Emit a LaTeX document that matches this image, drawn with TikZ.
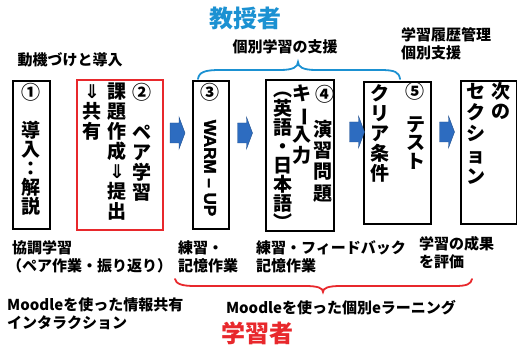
\documentclass[tikz,border=0pt]{standalone}
\usepackage{fontspec}
\setmainfont{Noto Sans CJK JP}[BoldFont={Noto Sans CJK JP Black}]
\newfontfamily\arialfont{Liberation Sans Bold}[FakeBold=2]
\newfontfamily\dvfont{DejaVu Sans}
\definecolor{tblue}{HTML}{1B91D2}
\definecolor{lred}{HTML}{E8282C}
\definecolor{abl}{HTML}{2D6CC0}
\definecolor{abld}{HTML}{1F4E8C}
\newcommand{\fs}{\rule{0pt}{17pt}}
\newcommand{\DA}{{\dvfont\bfseries ⇓}}
\newcommand{\VB}{\rotatebox[origin=c]{-90}{ー}}
\newcommand{\tightls}{\lineskiplimit=-50pt\relax\lineskip=0pt\relax}
\newcommand{\colfont}[1]{\bfseries\fontsize{19}{#1}\selectfont\tightls}
\begin{document}
\begin{tikzpicture}[x=1pt,y=-1pt,
  box/.style={draw=black, line width=2pt, anchor=north west, inner sep=0pt},
  col/.style={inner sep=0pt, anchor=north, align=center, yshift=9.8pt,
    font={\colfont{#1}}},
  lbl/.style={inner sep=0pt, align=left, font={\bfseries\fontsize{15}{18}\selectfont\tightls}},
  ttl/.style={inner sep=0pt, font=\bfseries\fontsize{24}{24}\selectfont},
  brace/.style={line width=1.8pt, line cap=round},
  blockarr/.pic={\filldraw[fill=abl, draw=abld, line width=0.4pt]
    (-7.5,-10) -- (1.5,-10) -- (1.5,-16) -- (7.5,0) -- (1.5,16) -- (1.5,10) -- (-7.5,10) -- cycle;}
]
\useasboundingbox (0,0) rectangle (517,347);

% boxes
\node[box, minimum width=37pt, minimum height=148pt] (b1) at (12,80) {};
\node[box, draw=lred, minimum width=86pt, minimum height=150pt] (b2) at (76,79) {};
\node[box, minimum width=36pt, minimum height=148pt] (b3) at (192,80) {};
\node[box, minimum width=68pt, minimum height=151pt] (b4) at (265,79) {};
\node[box, minimum width=67pt, minimum height=142pt] (b5) at (363,81) {};
\node[box, minimum width=56pt, minimum height=143pt] (b6) at (460,80) {};

% box texts
\node[col=19] (c1) at (30.5,92) {\fs①\\\mbox{}\\導\\入\\：\\解\\説};
\node[col=20] (c2a) at (142,92) {\fs②\\\mbox{}\\ペ\\ア\\学\\習};
\node[col=20] (c2b) at (117,91) {\fs 課\\題\\作\\成\\\DA\\提\\出};
\node[col=20] (c2c) at (92,91) {\fs\DA\\共\\有};
\node[col=19] (c3) at (210,92) {\fs③};
\node[inner sep=0pt, rotate=-90, font=\arialfont\fontsize{17}{17}\selectfont] (warm) at (210,168) {WARM – UP};
\node[col=19] (c4n) at (325,94) {\fs④};
\node[col=21.3] (c4a) at (323,129) {\fs 演\\習\\問\\題};
\node[col=20.7] (c4b) at (302,93) {\fs キ\\\VB\\入\\力};
\node[col=19] (c4c) at (283,89) {\fs ︵\\英\\語\\・\\日\\本\\語\\︶};
\node[col=19] (c5n) at (415,91) {\fs⑤};
\node[col=18.5] (c5a) at (416,124) {\fs テ\\ス\\ト};
\node[col=20] (c5b) at (380,93) {\fs ク\\リ\\ア\\条\\件};
\node[col=20] (c6a) at (501,91) {\fs 次\\の};
\node[col=21.3] (c6b) at (476,91) {\fs セ\\ク\\シ\\ョ\\ン};

% block arrows
\pic at (177.5,133) {blockarr};
\pic at (245,133) {blockarr};
\pic at (357,132) {blockarr};
\pic at (447,132) {blockarr};

% titles
\node[ttl, text=tblue] (teacher) at (245,18) {教授者};
\node[ttl, text=lred] (learner) at (257,333) {学習者};

% top labels
\node[lbl] (motiv) at (70,60) {動機づけと導入};
\node[lbl] (indiv) at (285,47) {個別学習の支援};
\node[lbl, anchor=west] (hist) at (401,44) {学習履歴管理\\個別支援};

% bottom labels
\node[lbl, anchor=west] (coop1) at (12,248) {協調学習};
\node[lbl, anchor=west] (coop2) at (7,265.5) {（ペア作業・振り返り）};
\node[lbl, anchor=west] (prac1) at (178,256.5) {練習・\\記憶作業};
\node[lbl, anchor=west] (prac2) at (256,256.5) {練習・フィードバック\\記憶作業};
\node[lbl, anchor=west] (eval) at (419,252.5) {学習の成果\\を評価};
\node[lbl, anchor=west] (moodle1) at (7,313.5) {Moodleを使った情報共有\\インタラクション};
\node[lbl] (moodle2) at (341,308) {Moodleを使った個別eラーニング};

% braces
\draw[brace, tblue] (198,79) .. controls (199,72) and (205,70) .. (220,70) -- (280,70)
  .. controls (293,70) and (298,67) .. (298,62)
  .. controls (298,67) and (303,70) .. (316,70) -- (380,70)
  .. controls (395,70) and (399,72) .. (400,79);
\draw[brace, lred] (175,279) .. controls (176,284) and (182,286) .. (195,286) -- (305,286)
  .. controls (318,286) and (323,288) .. (323,292)
  .. controls (323,288) and (328,286) .. (341,286) -- (455,286)
  .. controls (467,286) and (471,284) .. (472,279);
\end{tikzpicture}
\end{document}
